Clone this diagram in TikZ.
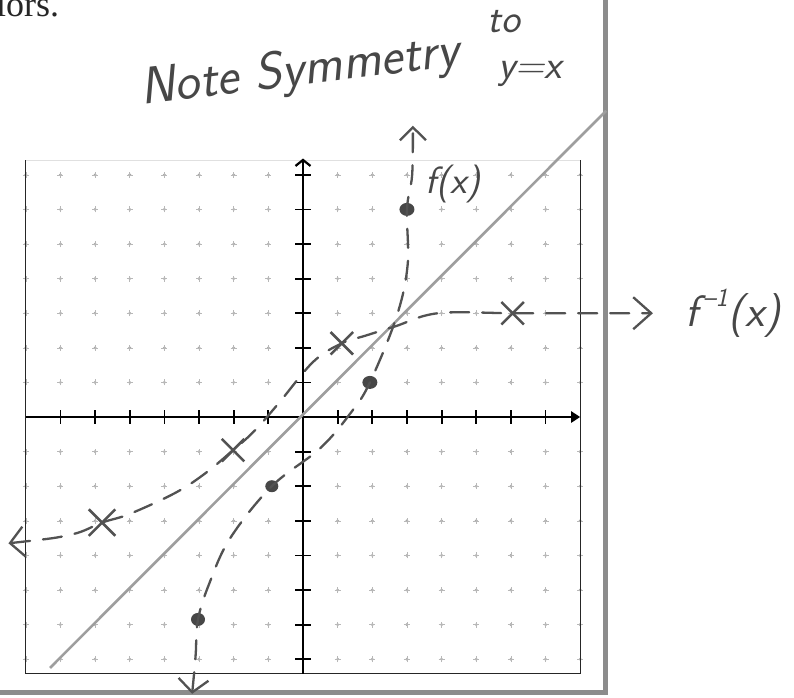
\documentclass[tikz,border=0pt]{standalone}
\usepackage{fontspec}
\setmainfont{Liberation Serif}
\usetikzlibrary{arrows.meta,shapes.misc,shapes.geometric}
\begin{document}
\begin{tikzpicture}[x=1pt,y=-1pt,
  pencil/.style={draw=black!68, line width=2.3pt, line cap=round, line join=round},
  dashcurve/.style={pencil, dash pattern=on 19pt off 13pt},
  hand/.style={text=black!72, inner sep=0pt},
  gdot/.style={fill=black!35, draw=none},
  blob/.style={ellipse, fill=black!72, draw=none, minimum width=15pt, minimum height=13pt, inner sep=0pt},
  xmark/.style={cross out, draw=black!68, line width=2.5pt, minimum size=20pt, inner sep=0pt},
  axisline/.style={draw=black, line width=2.2pt},
  tickmark/.style={draw=black, line width=1.8pt},
]
\useasboundingbox (0,0) rectangle (794,697);
\clip (0,0) rectangle (794,697);
\fill[white] (0,0) rectangle (794,697);

% cut-off printed text
\node[anchor=base west, inner sep=0pt, text=black!85, font=\fontsize{36}{36}\selectfont] (cut) at (-4,16) {iors.};

% outer page frame
\draw[draw=black!45, line width=5pt] (605,-5) -- (605,692) -- (-5,692);

\begin{scope}[shift={(303pt,-417pt)}, x=34.65pt, y=34.6pt]
  % grid dots
  \foreach \i in {-8,...,8} {
    \foreach \j in {-7,...,7} {
      \ifnum\i=0 \else \ifnum\j=0 \else
        \fill[gdot] (\i,\j) circle (1.6pt);
        \draw[black!28, line width=0.6pt] (\i,\j) +(-3pt,0) -- +(3pt,0) +(0,-3pt) -- +(0,3pt);
      \fi\fi
    }
  }
  % grid box
  \draw[black!12, line width=0.8pt] (-8,7.42) -- (8,7.42);
  \draw[black!85, line width=1.2pt] (-8,7.42) -- (-8,-7.42) -- (8,-7.42) -- (8,7.42);
  % axes
  \coordinate (xl) at (-8,0);
  \coordinate (xr) at (8,0);
  \coordinate (yb) at (0,-7.42);
  \coordinate (yt) at (0,7.47);
  \draw[axisline, -{Triangle[length=9pt,width=11pt]}] (xl) -- (xr);
  \draw[axisline, -{Straight Barb[length=6pt,width=15pt]}] (yb) -- (yt);
  \foreach \i in {-7,...,-1,1,2,...,7} {
    \draw[tickmark] (\i,-0.2) -- (\i,0.2);
    \draw[tickmark] (-0.23,\i) -- (0.23,\i);
  }

  % line y = x
  \coordinate (d1) at (-7.3,-7.25);
  \coordinate (d2) at (8.75,8.85);
  \draw[draw=black!38, line width=2.6pt] (d1) -- (d2);

  % f(x) points
  \node[blob] (p1) at (3,6) {};
  \node[blob] (p2) at (1.93,1.0) {};
  \node[blob, minimum width=13pt, minimum height=12pt] (p3) at (-0.9,-2.0) {};
  \node[blob, minimum width=14pt, minimum height=13pt] (p4) at (-3.03,-5.85) {};

  % f^{-1}(x) points
  \node[xmark] (q1) at (6.05,3.0) {};
  \node[xmark] (q2) at (1.12,2.13) {};
  \node[xmark] (q3) at (-2.02,-0.96) {};
  \node[xmark, minimum size=24pt] (q4) at (-5.8,-3.05) {};

  % f(x) dashed curve
  \coordinate (fb) at (-3.2,-8.0);
  \coordinate (ft) at (3.17,8.42);
  \draw[dashcurve, {Straight Barb[length=13pt,width=30pt]}-{Straight Barb[length=13pt,width=26pt]}]
    plot[smooth, tension=0.6] coordinates {(fb) (-3.1,-6.9) (p4) (-2.7,-4.8) (-2.1,-3.5) (p3) (0.5,-0.9) (1.4,0.15) (p2) (2.7,2.9) (3.02,4.4) (p1) (3.15,7.0) (ft)};

  % f^{-1}(x) dashed curve
  \coordinate (gl) at (-8.5,-3.65);
  \coordinate (gr) at (10.1,3.0);
  \draw[dashcurve, {Straight Barb[length=14pt,width=30pt]}-{Straight Barb[length=18pt,width=32pt]}]
    plot[smooth, tension=0.6] coordinates {(gl) (-6.7,-3.4) (q4) (-5.0,-2.8) (-3.7,-2.2) (-2.85,-1.65) (q3) (-1.4,-0.4) (-0.7,0.4) (0.3,1.6) (q2) (1.8,2.35) (2.66,2.62) (3.9,3.0) (q1) (8,3.0) (gr)};
\end{scope}

% handwritten labels
\node[hand, font=\sffamily\itshape\fontsize{52}{52}\selectfont, rotate=7] (note) at (300,72) {Note Symmetry};
\node[hand, font=\sffamily\itshape\fontsize{40}{40}\selectfont] (to) at (504,22) {to};
\node[hand, font=\sffamily\itshape\fontsize{40}{40}\selectfont] (yx) at (530,74) {y=x};
\node[hand, font=\sffamily\itshape\fontsize{38}{38}\selectfont] (fx) at (453,184) {f(x)};
\node[hand, font=\sffamily\itshape\fontsize{44}{44}\selectfont] (finv) at (733,313) {f\kern5pt\raisebox{0.45em}{\fontsize{26}{26}\selectfont \textendash1}\kern1pt(x)};
\end{tikzpicture}
\end{document}
